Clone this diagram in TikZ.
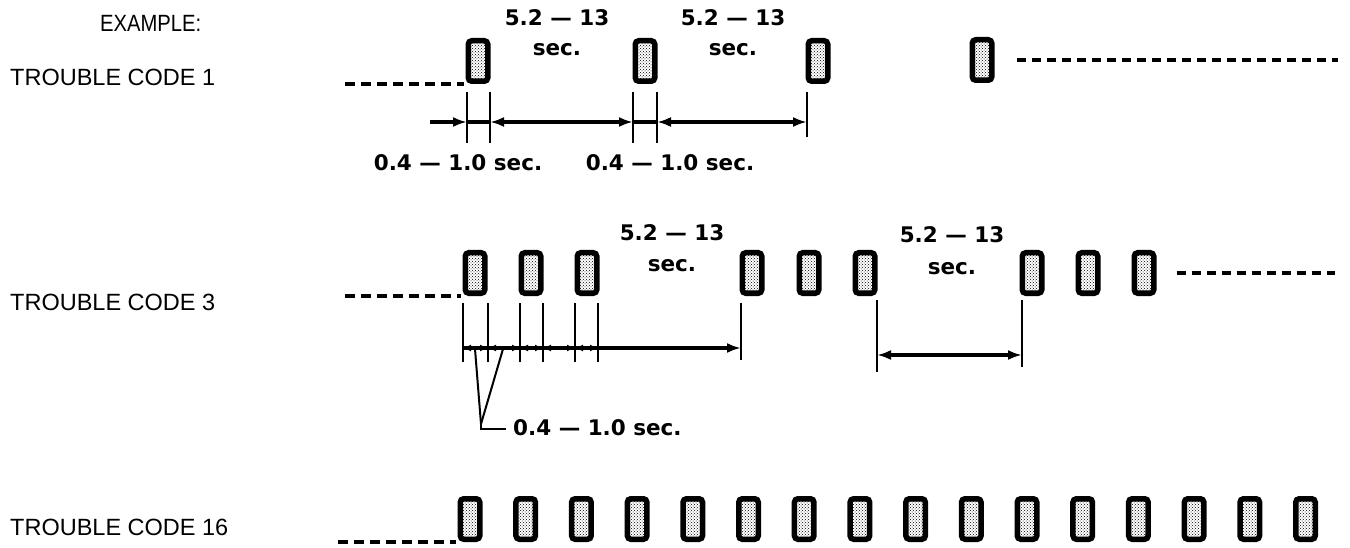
\documentclass[tikz,border=0pt]{standalone}
\usepackage{fontspec}
\newfontfamily\labf{Liberation Sans}
\newfontfamily\numf{DejaVu Sans}
\usetikzlibrary{arrows.meta,patterns}
\tikzset{
  pulse/.style={draw, line width=5.5pt, rounded corners=3.5pt, minimum width=19.5pt, minimum height=40.5pt, inner sep=0pt, pattern=crosshatch dots, pattern color=black},
  dashline/.style={line width=3.5pt, dash pattern=on 10pt off 6pt},
  dashfine/.style={line width=3.5pt, dash pattern=on 9pt off 6pt},
  tick/.style={line width=2pt},
  dim/.style={line width=3.2pt},
  tipr/.style={-{Latex[length=14pt,width=10pt]}},
  tipb/.style={{Latex[length=14pt,width=10pt]}-{Latex[length=14pt,width=10pt]}},
  tips/.style={{Latex[length=8pt,width=7pt]}-{Latex[length=8pt,width=7pt]}},
  label/.style={font=\labf\fontsize{23.5}{26}\selectfont, anchor=west, inner sep=0pt},
  num/.style={font=\numf\bfseries\fontsize{21.5}{24}\selectfont, inner sep=0pt},
}
\begin{document}
\begin{tikzpicture}[x=1pt,y=-1pt]
\useasboundingbox (0,0) rectangle (1350,548);
% labels
\node[label] (ex) at (100,23) {\scalebox{0.86}[1]{EXAMPLE:}};
\node[label] (l1) at (10,77) {TROUBLE CODE 1};
\node[label] (l3) at (10,302) {TROUBLE CODE 3};
\node[label] (l16) at (10,527) {TROUBLE CODE 16};

% ---------- Trouble code 1
\node[pulse] (a1) at (478,61) {};
\node[pulse] (a2) at (645,61) {};
\node[pulse] (a3) at (818,61) {};
\node[pulse] (a4) at (982,60) {};
\coordinate (a0) at (345,83);
\coordinate (ae) at (1338,60);
\draw[dashline] (a1.south west -| a0) -- ([xshift=-2pt]a1.south west);
\draw[dashfine] ([xshift=22pt]a4.east) -- (ae);
% ticks
\coordinate (t1a) at (467,92); \coordinate (t1b) at (467,143);
\coordinate (t2a) at (490,92); \coordinate (t2b) at (490,143);
\coordinate (t3a) at (633,92); \coordinate (t3b) at (633,143);
\coordinate (t4a) at (657,92); \coordinate (t4b) at (657,143);
\coordinate (t5a) at (807,92); \coordinate (t5b) at (807,137);
\foreach \t in {1,...,5} \draw[tick] (t\t a) -- (t\t b);
\coordinate (d0) at (430,122);
\coordinate (d1) at (467,122);
\coordinate (d2) at (490,122);
\coordinate (d3) at (633,122);
\coordinate (d4) at (657,122);
\coordinate (d5) at (807,122);
\draw[dim,tipr] (d0) -- (d1);
\draw[dim] (d1) -- (d2);
\draw[dim,tipb] (d2) -- (d3);
\draw[dim] (d3) -- (d4);
\draw[dim,tipb] (d4) -- (d5);
\node[num] (n1) at (557,18) {5.2 — 13};
\node[num] (s1) at (557,50) {sec.};
\node[num] (n2) at (733,18) {5.2 — 13};
\node[num] (s2) at (733,50) {sec.};
\node[num] (w1) at (458,163) {0.4 — 1.0 sec.};
\node[num] (w2) at (670,163) {0.4 — 1.0 sec.};

% ---------- Trouble code 3
\foreach \n/\x in {1/475,2/531,3/587,4/752,5/809,6/865,7/1032,8/1088,9/1144}
  \node[pulse] (b\n) at (\x,273) {};
\coordinate (b0) at (345,294);
\coordinate (be) at (1335,273);
\draw[dashline] (b1.south west -| b0) -- ([xshift=-2pt]b1.south west);
\draw[dashfine] ([xshift=20pt]b9.east) -- (be);
\foreach \n/\x in {1/463,2/488,3/520,4/543,5/575,6/598}{
  \coordinate (u\n a) at (\x,303); \coordinate (u\n b) at (\x,362);
  \draw[tick] (u\n a) -- (u\n b);
  \coordinate (m\n) at (\x,348);
}
\coordinate (u7a) at (741,303); \coordinate (u7b) at (741,360);
\draw[tick] (u7a) -- (u7b);
\coordinate (m7) at (741,348);
\draw[dim] (m1) -- (m6);
\draw[dim,tips] (m1) -- (m2);
\draw[dim,tips] (m2) -- (m3);
\draw[dim,tips] (m3) -- (m4);
\draw[dim,tips] (m4) -- (m5);
\draw[dim,tips] (m5) -- (m6);
\draw[dim,tipr] (m6) -- (m7);
\coordinate (v1a) at (877,300); \coordinate (v1b) at (877,372);
\coordinate (v2a) at (1022,300); \coordinate (v2b) at (1022,367);
\draw[tick] (v1a) -- (v1b);
\draw[tick] (v2a) -- (v2b);
\coordinate (h1) at (877,355); \coordinate (h2) at (1022,355);
\draw[dim,tipb] (h1) -- (h2);
\node[num] (n3) at (672,233) {5.2 — 13};
\node[num] (s3) at (672,266) {sec.};
\node[num] (n4) at (952,235) {5.2 — 13};
\node[num] (s4) at (952,269) {sec.};
% leader
\coordinate (q1) at (475,349);
\coordinate (q2) at (503,349);
\coordinate (qc) at (481,424);
\coordinate (qe) at (506,429);
\node[num, anchor=west] (w3) at (513,428) {0.4 — 1.0 sec.};
\draw[tick] (q1) -- (qc);
\draw[tick] (q2) -- (qc);
\draw[tick] (qc) |- (qe);

% ---------- Trouble code 16
\foreach \i in {0,...,15}
  \node[pulse] (c\i) at ({470+55.7*\i},519) {};
\coordinate (c00) at (338,540);
\draw[dashline] (c0.south west -| c00) -- ([xshift=-2pt]c0.south west);
\end{tikzpicture}
\end{document}
